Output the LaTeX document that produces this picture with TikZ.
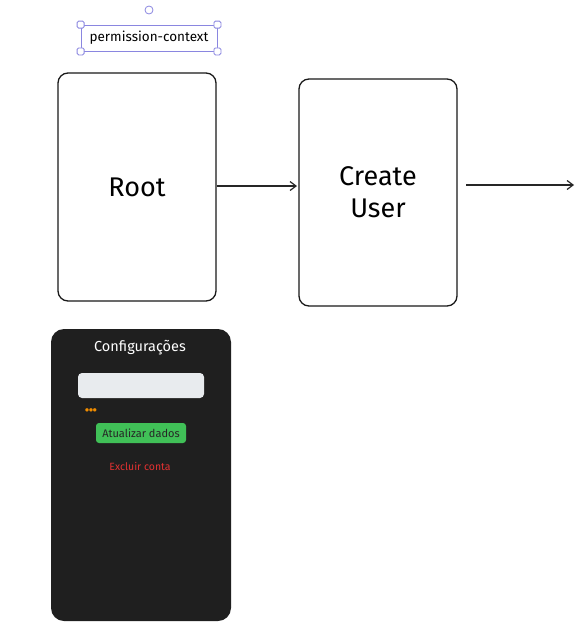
\documentclass[tikz,border=0pt]{standalone}
\usepackage{fontspec}
\setmainfont{Fira Sans}
\newfontfamily\symfont{DejaVu Sans}
\usetikzlibrary{arrows.meta}
\definecolor{selc}{HTML}{8A86E0}
\definecolor{panelc}{HTML}{1F1F1F}
\definecolor{inputc}{HTML}{E8EBEE}
\definecolor{btnc}{HTML}{40C057}
\definecolor{redc}{HTML}{E03131}
\definecolor{dotc}{HTML}{F08C00}
\tikzset{
  x=1pt, y=-1pt,
  flowbox/.style={draw=black!90, line width=1.3pt, rounded corners=10pt},
  flowarrow/.style={draw=black!85, line width=1.2pt, -{Straight Barb[length=6pt,width=9pt]}},
  handle/.style={draw=selc, fill=white, line width=0.8pt, rounded corners=1.5pt, minimum size=7pt, inner sep=0pt},
  bigtext/.style={font=\fontsize{27}{32}\selectfont, align=center}
}
\begin{document}
\begin{tikzpicture}
\useasboundingbox (0,0) rectangle (580,632);
% selection
\node[draw=selc, line width=0.8pt, minimum width=136pt, minimum height=26pt, inner sep=0pt,
  font=\fontsize{13.5}{15}\selectfont] (perm) at (149,38) {permission-context};
\node[handle] (h1) at (perm.north west) {};
\node[handle] (h2) at (perm.north east) {};
\node[handle] (h3) at (perm.south west) {};
\node[handle] (h4) at (perm.south east) {};
\node[draw=selc, fill=white, line width=0.8pt, circle, minimum size=8pt, inner sep=0pt] (rot) at (149,10) {};
% flow boxes
\node[flowbox, minimum width=158pt, minimum height=228pt, bigtext] (root) at (137,187) {Root};
\node[flowbox, minimum width=158pt, minimum height=227pt, bigtext] (create) at (378,192.5) {Create\\User};
\coordinate (endpt) at (574,185);
\draw[flowarrow] (root.east |- 0,186) -- (297,186);
\draw[flowarrow] (466,185) -- (endpt);
% panel
\node[fill=panelc, rounded corners=13pt, minimum width=180pt, minimum height=292pt, inner sep=0pt] (panel) at (141,475) {};
\node[text=white, font=\fontsize{14.5}{17}\selectfont] (title) at (140,348) {Configurações};
\node[fill=inputc, rounded corners=4pt, minimum width=126pt, minimum height=25pt, inner sep=0pt] (input) at (141,385.5) {};
\node[text=dotc, font=\symfont\fontsize{4.5}{6}\selectfont, inner sep=0pt] (dots) at (91,410) {●●●};
\node[fill=btnc, rounded corners=3pt, minimum width=90pt, minimum height=20pt, inner sep=0pt,
  text=black!85, font=\fontsize{11}{12}\selectfont] (btn) at (141,433) {Atualizar dados};
\node[text=redc, font=\fontsize{10.5}{12}\selectfont] (del) at (140,466) {Excluir conta};
\end{tikzpicture}
\end{document}
